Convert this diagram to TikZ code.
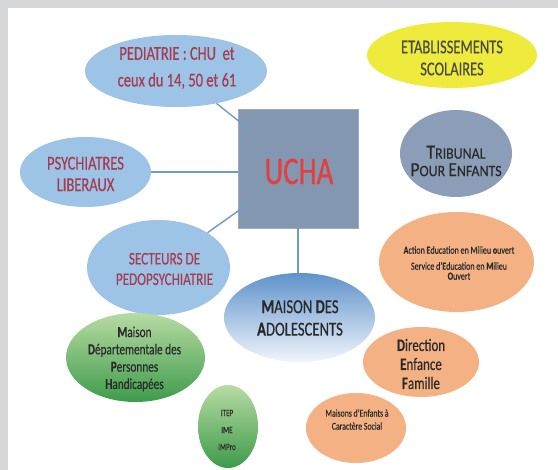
\documentclass[tikz,border=0pt]{standalone}
\usepackage{fontspec}
\setmainfont{Carlito}[FakeStretch=0.74, FakeBold=0.35]
\newfontfamily\tribfont{Carlito}[FakeStretch=0.88, FakeBold=0.35]
\usetikzlibrary{shapes.geometric}
\definecolor{bgG}{HTML}{D6D7D9}
\definecolor{lblue}{HTML}{9DC3E6}
\definecolor{redtx}{HTML}{A63C50}
\definecolor{yel}{HTML}{EFEB3C}
\definecolor{slate}{HTML}{8B9DB7}
\definecolor{sq}{HTML}{8497B0}
\definecolor{uchared}{HTML}{E43E3E}
\definecolor{peach}{HTML}{F4B183}
\definecolor{linec}{HTML}{6F9CC6}
\definecolor{gtop}{HTML}{B7DBA3}
\definecolor{gbot}{HTML}{3E9B4B}
\definecolor{atop}{HTML}{5F93CB}
\definecolor{abot}{HTML}{F0F5FB}
\definecolor{dk}{HTML}{2A2A2A}
\newcommand{\fsz}[2]{\fontsize{#1}{#2}\selectfont}
\begin{document}
\begin{tikzpicture}[x=1pt,y=-1pt,
  bub/.style={ellipse, inner sep=0pt, draw=none},
  txt/.style={align=center, inner sep=0pt},
  link/.style={draw=linec, line width=1.4pt},
]
\fill[bgG] (0,0) rectangle (558,470);
\fill[white] (8,8) rectangle (558,470);
\useasboundingbox (0,0) rectangle (558,470);

\node[bub, fill=lblue, minimum width=182pt, minimum height=72pt] (ped) at (176,71) {};
\node[txt, text=redtx, font=\fsz{19.6}{26.7}] (pedt) at (177,68) {PEDIATRIE : CHU\ \ et\\ceux du 14, 50 et 61};

\node[bub, fill=yel, minimum width=170pt, minimum height=66pt] (etab) at (452,55) {};
\node[txt, text=dk!85, font=\fsz{19.6}{22}] (etabt) at (452,58) {ETABLISSEMENTS\\SCOLAIRES};

\node[rectangle, fill=sq, draw=sq!80!white, minimum width=120pt, minimum height=119pt, inner sep=0pt] (ucha) at (298,168.5) {};
\node[txt, text=uchared, font=\fsz{39}{40}] (uchat) at (299,171.5) {UCHA};

\node[bub, fill=lblue, minimum width=131pt, minimum height=70pt] (psy) at (85.5,172) {};
\node[txt, text=redtx, font=\fsz{19.6}{21.5}] (psyt) at (85.5,174) {PSYCHIATRES\\LIBERAUX};

\node[bub, fill=slate, minimum width=112pt, minimum height=87pt] (trib) at (456,153.5) {};
\node[txt, text=dk, font=\tribfont\fsz{15.8}{17.5}] (tribt) at (456,161) {{\fsz{20}{17.5}T}RIBUNAL\\{\fsz{20}{17.5}P}OUR {\fsz{20}{17.5}E}NFANTS};

\node[bub, fill=peach, minimum width=155pt, minimum height=100pt] (aemo) at (456.5,262) {};
\node[txt, text=dk, font=\fsz{10.8}{10}] (aemot) at (459,263) {\textbf{A}ction \textbf{E}ducation en Milieu \textbf{o}uvert\\[6pt]Service d'\textbf{E}ducation en \textbf{M}ilieu\\\textbf{O}uvert};

\node[bub, fill=lblue, minimum width=143pt, minimum height=95pt] (sect) at (158.5,267.5) {};
\node[txt, text=redtx, font=\fsz{17.8}{20.5}] (sectt) at (164.5,269) {SECTEURS DE\\PEDOPSYCHIATRIE};

\node[bub, top color=atop, bottom color=abot, minimum width=151pt, minimum height=89pt] (ados) at (299.5,317.5) {};
\node[txt, text=dk, font=\fsz{19.8}{22.5}] (adost) at (300,318) {\textbf{M}AISON \textbf{D}ES\\\textbf{A}DOLESCENTS};

\node[bub, top color=gtop, bottom color=gbot, minimum width=139pt, minimum height=89pt] (mdph) at (135.5,357.5) {};
\node[txt, text=dk, font=\fsz{15.2}{17.3}] (mdpht) at (134.5,359) {\textbf{M}aison\\\textbf{D}épartementale des\\\textbf{P}ersonnes\\\textbf{H}andicapées};

\node[bub, top color=gtop, bottom color=gbot, minimum width=60pt, minimum height=83pt] (itep) at (228,426.5) {};
\node[txt, text=dk, font=\fsz{9.5}{17}] (itept) at (227,430) {ITEP\\IME\\IMPro};

\node[bub, fill=peach, minimum width=116pt, minimum height=70pt] (def) at (421,362) {};
\node[txt, text=dk, font=\fsz{17.5}{19}] (deft) at (421,364) {\textbf{D}irection\\\textbf{E}nfance\\\textbf{F}amille};

\node[bub, fill=peach, minimum width=100pt, minimum height=70pt] (mecs) at (356,428) {};
\node[txt, text=dk, font=\fsz{10.5}{13}] (mecst) at (357,419.5) {Maisons d'Enfants à\\Caractère Social};

\draw[link, shorten >=62pt] (ped) -- (ucha.center);
\draw[link] (psy.east) -- (ucha.west |- psy.east);
\draw[link, shorten >=59.5pt] (sect) -- (ucha.center);
\draw[link] (ucha.south) -- (ucha.south |- ados.north);
\end{tikzpicture}
\end{document}
